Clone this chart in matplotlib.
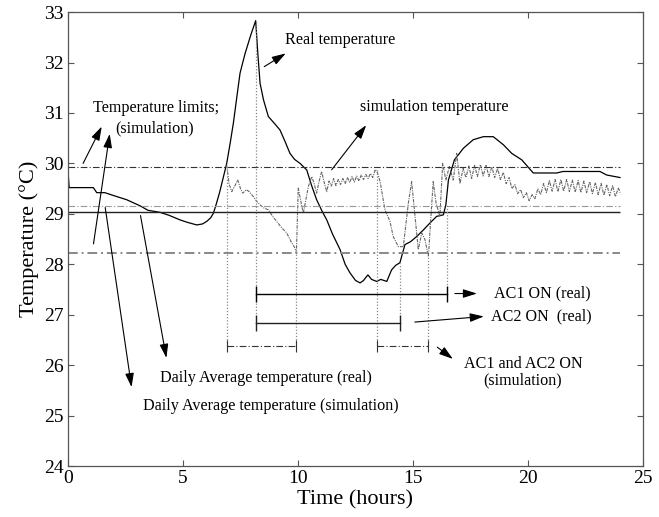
import numpy as np
import matplotlib
matplotlib.use('Agg')
import matplotlib.pyplot as plt

plt.rcParams['font.family'] = ['Liberation Serif', 'DejaVu Serif']

# measured room temperature (real)
real_t = [0, 0.05, 1.1, 1.25, 1.6, 2.0, 2.55, 3.13, 3.48, 4.0, 4.4, 4.87, 5.2, 5.6, 5.85, 6.03,
          6.2, 6.32, 6.45, 6.6, 6.75, 6.9, 7.05, 7.19, 7.35, 7.48, 7.7, 7.95, 8.16, 8.25, 8.35,
          8.5, 8.71, 9.0, 9.22, 9.45, 9.65, 9.85, 10.09, 10.38, 10.6, 10.81, 11.05, 11.25, 11.5,
          11.83, 12.05, 12.26, 12.5, 12.7, 12.85, 13.04, 13.2, 13.42, 13.6, 13.86, 14.07, 14.25,
          14.43, 14.65, 14.9, 15.16, 15.45, 15.74, 16.03, 16.32, 16.43, 16.54, 16.8, 17.19,
          17.62, 18.06, 18.49, 18.93, 19.29, 19.73, 20.23, 21.25, 21.52, 23.13, 23.42, 24.0]
real_T = [29.85, 29.52, 29.52, 29.42, 29.42, 29.36, 29.28, 29.16, 29.07, 29.03, 28.97, 28.88,
          28.83, 28.78, 28.8, 28.85, 28.92, 29.01, 29.2, 29.44, 29.72, 30.0, 30.4, 30.8, 31.35,
          31.79, 32.18, 32.55, 32.83, 32.2, 31.59, 31.26, 30.93, 30.78, 30.66, 30.42, 30.2,
          30.08, 30.0, 29.87, 29.55, 29.28, 29.05, 28.88, 28.6, 28.29, 28.0, 27.83, 27.68,
          27.63, 27.68, 27.79, 27.7, 27.66, 27.7, 27.66, 27.89, 27.98, 28.03, 28.39, 28.45,
          28.55, 28.68, 28.82, 28.95, 28.98, 29.18, 29.67, 30.07, 30.3, 30.47, 30.53, 30.53,
          30.37, 30.2, 30.07, 29.81, 29.81, 29.84, 29.84, 29.77, 29.72]

# simulated room temperature
sim_t = [6.9, 7.0, 7.12, 7.25, 7.38, 7.5, 7.6, 7.75, 7.88, 8.06, 8.2, 8.35, 8.5, 8.71, 8.9,
         9.07, 9.3, 9.51, 9.7, 9.87, 9.93, 10.01, 10.1, 10.23, 10.35, 10.45, 10.6, 10.7, 10.81,
         10.92, 11.03, 11.15, 11.25, 11.35, 11.45, 11.55, 11.65, 11.75, 11.85, 11.95, 12.05,
         12.15, 12.25, 12.35, 12.45, 12.55, 12.65, 12.75, 12.85, 12.95, 13.05, 13.15, 13.25,
         13.36, 13.45, 13.57, 13.78, 14.0, 14.14, 14.36, 14.58, 14.8, 14.94, 15.09, 15.23,
         15.38, 15.52, 15.67, 15.78, 15.88, 16.0, 16.17, 16.29, 16.43, 16.58, 16.75, 16.9,
         17.04, 17.18, 17.3, 17.43, 17.55, 17.68, 17.8, 17.93, 18.05, 18.18, 18.3, 18.43,
         18.55, 18.68, 18.8, 18.93, 19.05, 19.18, 19.3, 19.43, 19.55, 19.68, 19.8, 19.93,
         20.05, 20.18, 20.3, 20.43, 20.55, 20.68, 20.8, 20.93, 21.05, 21.18, 21.3, 21.43,
         21.55, 21.68, 21.8, 21.93, 22.05, 22.18, 22.3, 22.43, 22.55, 22.68, 22.8, 22.93,
         23.05, 23.18, 23.3, 23.43, 23.55, 23.68, 23.8, 23.93, 24.0]
sim_T = [29.97, 29.6, 29.44, 29.55, 29.67, 29.5, 29.41, 29.48, 29.44, 29.34, 29.25, 29.18,
         29.12, 29.08, 28.95, 28.85, 28.72, 28.62, 28.45, 28.32, 28.22, 29.51, 29.3, 29.01,
         29.3, 29.54, 29.74, 29.6, 29.41, 29.65, 29.84, 29.6, 29.44, 29.65, 29.55, 29.7, 29.56,
         29.68, 29.58, 29.7, 29.6, 29.72, 29.62, 29.74, 29.63, 29.75, 29.65, 29.77, 29.68,
         29.78, 29.7, 29.8, 29.72, 29.88, 29.82, 29.64, 29.08, 28.85, 28.55, 28.35, 28.35,
         29.22, 29.64, 28.95, 28.29, 28.62, 28.49, 28.15, 28.95, 29.64, 29.22, 28.95, 30.0,
         29.67, 29.94, 29.67, 30.2, 29.6, 29.9, 29.72, 29.95, 29.7, 29.96, 29.74, 29.98, 29.75,
         29.96, 29.74, 29.93, 29.72, 29.9, 29.68, 29.82, 29.6, 29.72, 29.5, 29.58, 29.4, 29.48,
         29.32, 29.42, 29.26, 29.38, 29.3, 29.5, 29.38, 29.6, 29.42, 29.66, 29.45, 29.68, 29.44,
         29.68, 29.45, 29.68, 29.44, 29.67, 29.43, 29.66, 29.42, 29.65, 29.42, 29.64, 29.4,
         29.62, 29.38, 29.6, 29.37, 29.58, 29.36, 29.56, 29.34, 29.52, 29.42]

# reference levels
limit_high = 29.93
limit_low = 28.23
avg_real = 29.03
avg_sim = 29.15

# air conditioner switching (start, end)
ac1_real = (8.16, 16.46)
ac2_real = (8.16, 14.43)
ac_sim = [(6.9, 9.91), (13.42, 15.67)]
ac1_level, ac2_level, sim_level = 27.41, 26.84, 26.37

# switching instants (time, temperature at curve, level of bar)
switch_t = [6.9, 8.16, 9.91, 13.42, 14.43, 15.67, 16.46]
switch_top = [29.97, 32.83, 28.22, 29.87, 28.03, 28.15, 29.18]
switch_bot = [26.37, 26.84, 26.37, 26.37, 26.84, 26.37, 27.41]

fig = plt.figure(figsize=(6.59, 5.17), dpi=100)
ax = fig.add_axes([0.1032, 0.0986, 0.8725, 0.878])

ax.plot(real_t, real_T, color='black', lw=0.9)
ax.plot(sim_t, sim_T, color='#666666', lw=0.8, linestyle=(0, (3, 1, 1, 1)))

ax.hlines(limit_high, 0, 24, color='#333333', lw=0.8, linestyle=(0, (6, 2, 1, 2)))
ax.hlines(limit_low, 0, 24, color='#888888', lw=1.4, linestyle=(0, (5, 2, 1, 2)))
ax.hlines(avg_real, 0, 24, color='#222222', lw=1.0)
ax.hlines(avg_sim, 0, 24, color='#999999', lw=0.8, linestyle=(0, (6, 2, 1, 2)))

ax.vlines(switch_t, switch_bot, switch_top, color='#888888', lw=0.9, linestyle=(0, (1, 1.5)))

ax.plot(ac1_real, [ac1_level] * 2, color='black', lw=1.0, marker='|', ms=12, mew=1.0)
ax.plot(ac2_real, [ac2_level] * 2, color='#222222', lw=1.0, marker='|', ms=12, mew=1.0)
for s in ac_sim:
    ax.plot(s, [sim_level] * 2, color='#333333', lw=0.8, linestyle=(0, (6, 2, 1, 2)),
            marker='|', ms=9, mew=0.8)

arrow = dict(arrowstyle='-|>,head_length=0.7,head_width=0.22', color='black', lw=0.8,
             mutation_scale=12)
txt = dict(fontsize=11.6)

ax.annotate('', xy=(9.57, 32.21), xytext=(8.43, 31.89), arrowprops=arrow)
ax.text(9.43, 32.45, 'Real temperature', va='center', **txt)

ax.annotate('', xy=(13.04, 30.8), xytext=(11.39, 29.83), arrowprops=arrow)
ax.text(12.7, 31.12, 'simulation temperature', va='center', **txt)

ax.annotate('', xy=(1.52, 30.78), xytext=(0.6, 29.95), arrowprops=arrow)
ax.annotate('', xy=(1.83, 30.64), xytext=(1.09, 28.35), arrowprops=arrow)
ax.text(1.09, 31.1, 'Temperature limits;', va='center', **txt)
ax.text(2.04, 30.7, '(simulation)', va='center', **txt)

ax.annotate('', xy=(4.3, 26.09), xytext=(3.13, 29.02), arrowprops=arrow)
ax.text(4.0, 25.75, 'Daily Average temperature (real)', va='center', **txt)
ax.annotate('', xy=(2.78, 25.51), xytext=(1.6, 29.18), arrowprops=arrow)
ax.text(3.26, 25.2, 'Daily Average temperature (simulation)', va='center', **txt)

ax.annotate('', xy=(17.9, 27.42), xytext=(16.7, 27.42), arrowprops=arrow)
ax.text(18.52, 27.42, 'AC1 ON (real)', va='center', **txt)
ax.annotate('', xy=(18.2, 26.97), xytext=(14.96, 26.85), arrowprops=arrow)
ax.text(18.39, 26.97, 'AC2 ON  (real)', va='center', **txt)
ax.annotate('', xy=(16.83, 26.09), xytext=(15.96, 26.39), arrowprops=arrow)
ax.text(19.78, 26.03, 'AC1 and AC2 ON', va='center', ha='center', **txt)
ax.text(19.78, 25.69, '(simulation)', va='center', ha='center', **txt)

ax.set_xlim(0, 25)
ax.set_ylim(24, 33)
ax.set_xticks(np.arange(0, 26, 5))
ax.set_yticks(np.arange(24, 34, 1))
ax.tick_params(direction='in', top=True, right=True, length=4, width=0.8,
               color='#555555', labelsize=14, pad=3)
for sp in ax.spines.values():
    sp.set_color('#555555')
    sp.set_linewidth(0.9)
ax.set_xlabel('Time (hours)', fontsize=16, labelpad=2)
ax.set_ylabel('Temperature (\u00b0C)', fontsize=16, labelpad=4)

fig.savefig('out.png', dpi=100)
